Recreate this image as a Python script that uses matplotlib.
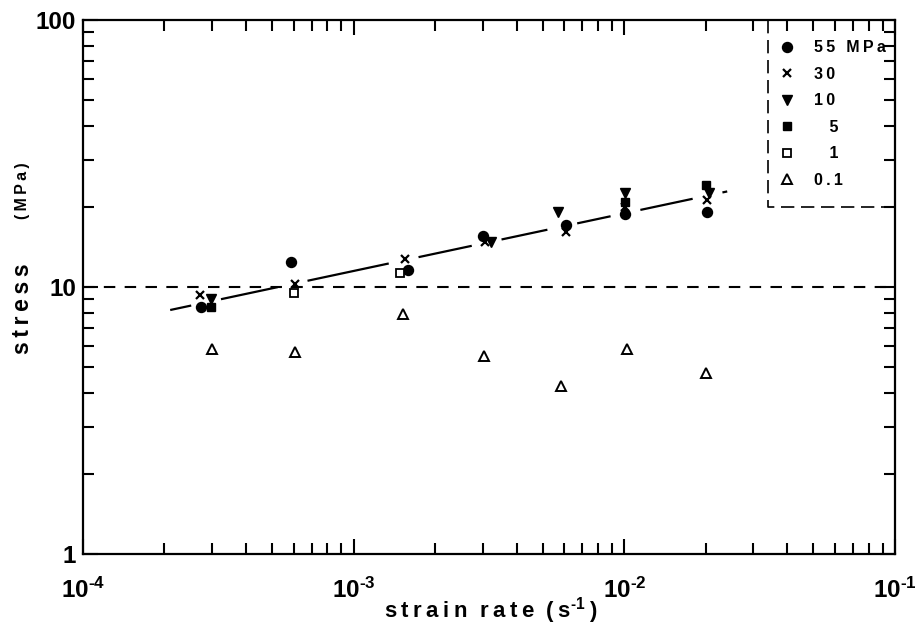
import numpy as np
import matplotlib
matplotlib.use("Agg")
import matplotlib.pyplot as plt

plt.rcParams['font.family'] = ['Liberation Sans', 'DejaVu Sans']
plt.rcParams['font.weight'] = 'bold'
plt.rcParams['mathtext.fontset'] = 'custom'
plt.rcParams['mathtext.bf'] = 'Liberation Sans:bold'
plt.rcParams['mathtext.rm'] = 'Liberation Sans:bold'
plt.rcParams['mathtext.default'] = 'bf'

# data (strain rate in 1/s, stress in MPa)
rate_55 = [2.72e-4, 5.85e-4, 1.59e-3, 3.01e-3, 6.08e-3, 1.01e-2, 2.02e-2]
stress_55 = [8.4, 12.4, 11.6, 15.5, 17.1, 18.7, 19.1]
rate_30 = [2.70e-4, 6.07e-4, 1.55e-3, 3.05e-3, 6.10e-3, 1.01e-2, 2.02e-2]
stress_30 = [9.3, 10.3, 12.7, 14.8, 16.1, 20.0, 21.2]
rate_10 = [2.98e-4, 3.21e-3, 5.70e-3, 1.01e-2, 2.06e-2]
stress_10 = [9.0, 14.7, 19.1, 22.5, 22.4]
rate_5 = [2.96e-4, 1.01e-2, 2.00e-2]
stress_5 = [8.4, 20.9, 24.1]
rate_1 = [6.00e-4, 1.48e-3]
stress_1 = [9.5, 11.3]
rate_01 = [3.00e-4, 6.07e-4, 1.52e-3, 3.02e-3, 5.83e-3, 1.02e-2, 2.00e-2]
stress_01 = [5.87, 5.72, 7.93, 5.52, 4.26, 5.85, 4.78]

# power-law fit line end points, broken around each cluster of points
fit_rate = [2.1e-4, 2.4e-2]
fit_stress = [8.2, 22.8]
cluster_rates = [2.85e-4, 5.95e-4, 1.53e-3, 3.1e-3, 5.9e-3, 1.01e-2, 2.03e-2]

level_stress = 10.0

legend_labels = ["55 MPa", "30", "10", "  5", "  1", "0.1"]
xtick_exps = ["-4", "-3", "-2", "-1"]


def spaced(s):
    return "\u2009".join(s)


fig = plt.figure(figsize=(9.2, 6.37), dpi=100)
ax = fig.add_axes([0.0902, 0.1303, 0.8826, 0.8383])
ax.set_xscale('log')
ax.set_yscale('log')
ax.set_xlim(1e-4, 1e-1)
ax.set_ylim(1, 100)

# fit line with gaps near the data
lr0, lr1 = np.log10(fit_rate)
ls0, ls1 = np.log10(fit_stress)
slope = (ls1 - ls0) / (lr1 - lr0)
edges = [lr0]
for r in cluster_rates:
    c = np.log10(r)
    edges += [c - 0.055, c + 0.055]
edges.append(lr1)
for a, b in zip(edges[::2], edges[1::2]):
    if b <= a:
        continue
    xs = np.array([a, b])
    ax.plot(10 ** xs, 10 ** (ls0 + slope * (xs - lr0)), color='black', lw=1.6,
            solid_capstyle='butt', zorder=2)

ax.axhline(level_stress, color='black', lw=1.5, linestyle=(0, (5.5, 4.5)), zorder=1)

h55, = ax.plot(rate_55, stress_55, 'o', color='black', ms=7.2, ls='none', zorder=3)
h30, = ax.plot(rate_30, stress_30, 'x', color='black', ms=6, mew=1.6, ls='none', zorder=3)
h10, = ax.plot(rate_10, stress_10, 'v', color='black', ms=6.5, ls='none', zorder=3)
h5, = ax.plot(rate_5, stress_5, 's', color='black', ms=5.5, ls='none', zorder=3)
h1, = ax.plot(rate_1, stress_1, 's', mfc='white', mec='black', ms=6, mew=1.3, ls='none', zorder=3)
h01, = ax.plot(rate_01, stress_01, '^', mfc='white', mec='black', ms=7.5, mew=1.4, ls='none', zorder=3)

leg = ax.legend([h55, h30, h10, h5, h1, h01], [spaced(t) if t.strip() else t for t in legend_labels],
                loc='upper left', bbox_to_anchor=(0.8436, 0.98), borderaxespad=0,
                frameon=False, fontsize=11.5, borderpad=0.6, handlelength=1.2,
                handletextpad=1.05, labelspacing=0.72, numpoints=1)
for t in leg.get_texts():
    t.set_fontweight('bold')

# dashed legend box (left and bottom edges; top/right are the axes frame)
ax.plot([0.8436, 0.8436, 1.0], [1.0, 0.65, 0.65], transform=ax.transAxes,
        color='black', lw=1.2, linestyle=(0, (8, 4)), clip_on=False, zorder=4)

for s in ax.spines.values():
    s.set_linewidth(1.6)

ax.tick_params(which='both', direction='in', top=True, right=True, width=1.5)
ax.tick_params(which='major', length=11)
ax.tick_params(which='minor', length=8)
ax.tick_params(axis='x', which='major', pad=17, labelsize=17.5)
ax.tick_params(axis='y', which='major', pad=5, labelsize=17.5)

ax.set_xticks([1e-4, 1e-3, 1e-2, 1e-1])
ax.set_xticklabels([r'$10^{\text{%s}}$' % e for e in xtick_exps])
ax.set_yticks([1, 10, 100])
ax.set_yticklabels(['1', '10', '100'])
ax.xaxis.set_minor_locator(matplotlib.ticker.LogLocator(base=10, subs=np.arange(2, 10)))
ax.yaxis.set_minor_locator(matplotlib.ticker.LogLocator(base=10, subs=np.arange(2, 10)))
ax.xaxis.set_minor_formatter(matplotlib.ticker.NullFormatter())
ax.yaxis.set_minor_formatter(matplotlib.ticker.NullFormatter())

fig.text(0.533, 0.042, spaced("strain") + "  " + spaced("rate") + "  (" + "\u2009s" + r"$^{\text{-1}}$" + "\u2009)",
         ha='center', va='center', fontsize=16, fontweight='bold')
fig.text(0.024, 0.516, spaced("stress"), rotation=90, ha='center', va='center',
         fontsize=16.5, fontweight='bold')
fig.text(0.024, 0.70, spaced("(MPa)"), rotation=90, ha='center', va='center',
         fontsize=11.5, fontweight='bold')

fig.savefig('out.png', dpi=100)
